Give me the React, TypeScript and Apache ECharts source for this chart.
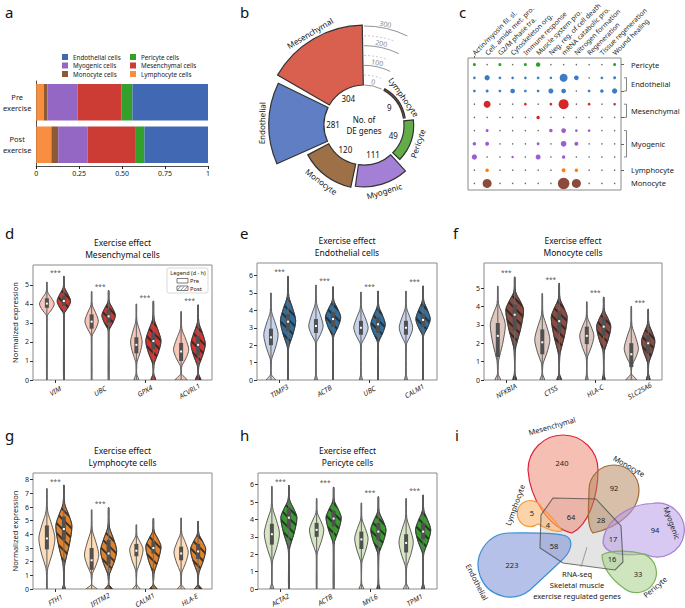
import React, { useEffect, useRef } from 'react';
import * as echarts from 'echarts';

const FONT = "'Noto Sans', sans-serif";

// ---------------- a: cell composition
const compositionGroups = ['Post\nexercise', 'Pre\nexercise'];
const compositionCells = ['Lymphocyte cells', 'Monocyte cells', 'Myogenic cells', 'Mesenchymal cells', 'Pericyte cells', 'Endothelial cells'];
const compositionColors = ['#f88e3f', '#8c5a34', '#9467c4', '#cd3b35', '#33a02c', '#4168b2'];
const fractionPre = [0.045, 0.02, 0.175, 0.255, 0.065, 0.44];
const fractionPost = [0.088, 0.04, 0.172, 0.28, 0.05, 0.37];
const fractionTicks = [0, 0.25, 0.5, 0.75, 1];

// ---------------- b: DE genes
const deCellTypes = ['Mesenchymal', 'Lymphocyte', 'Pericyte', 'Myogenic', 'Monocyte', 'Endothelial'];
const deGeneCounts = [304, 9, 49, 111, 120, 281];
const deColors = ['#d9604f', '#8a5634', '#62ad47', '#a47fd6', '#9e7048', '#5f7ec3'];
const deMajorTicks = [0, 100, 200, 300];
const deMinorTicks = [50, 150, 250];

// ---------------- c: GO dot plot
const goTerms = ['Actin/myosin fil. sl.', 'Cell. amide met. pro.', 'G2/M phase tra.', 'Cytoskeleton org.', 'Immune response', 'Muscle system pro.', 'Neg. reg. of cell death', 'mRNA catabolic pro.', 'Nitrogen formation', 'Regeneration', 'Tissue regeneration', 'Wound healing'];
const dotRowIds = ['Peri', 'Endo1', 'Endo2', 'Mes1', 'Mes2', 'Myo1', 'Myo2', 'Myo3', 'Lym', 'Mono'];
const dotRowColors = ['#2ca02c', '#3a7dc4', '#3a7dc4', '#d62728', '#d62728', '#9b5fd0', '#9b5fd0', '#9b5fd0', '#ff7f0e', '#8c4a3a'];
const dotSizes = [
  [3, 0, 3, 0, 3, 4.5, 0, 0, 0, 0, 0, 3],
  [2.7, 5.3, 2.7, 2.7, 2.7, 2.7, 2.5, 8, 4.7, 0, 2.7, 3],
  [2.7, 3, 2.7, 4.7, 2.7, 2.7, 5, 4.7, 0, 2.7, 3.5, 5.3],
  [0, 7, 0, 0, 2.7, 0, 2.7, 10, 0, 2.7, 0, 2.5],
  [0, 0, 0, 0, 0, 3.5, 0, 0, 0, 0, 0, 0],
  [0, 3, 0, 0, 0, 0, 3.5, 4.7, 2.7, 2.7, 0, 0],
  [3.5, 4, 0, 0, 0, 3, 0, 5.7, 4, 0, 0, 0],
  [5.3, 0, 0, 2.5, 0, 5, 0, 3.5, 0, 0, 0, 0],
  [0, 3.5, 0, 0, 0, 0, 0, 4, 3.5, 0, 0, 0],
  [0, 9, 0, 0, 0, 0, 0, 11.5, 9, 0, 0, 0],
];
const dotGroupLabels = ['Pericyte', 'Endothelial', 'Mesenchymal', 'Myogenic', 'Lymphocyte', 'Monocyte'];
const dotGroupRows = [[0, 0], [1, 2], [3, 4], [5, 7], [8, 8], [9, 9]];

// ---------------- d-h: violins  [max, peak, halfWidth, neck, baseLobe, q1, median, q3]
const genesD = ['VIM', 'UBC', 'GPX4', 'ACVRL1'];
const preD = [[5.15, 4.0, 0.165, 3.3, 0, 3.8, 4.02, 4.3], [4.65, 3.1, 0.15, 2.2, 0, 2.7, 3.07, 3.45], [4.0, 2.0, 0.13, 0.7, 0.05, 1.4, 1.85, 2.25], [3.6, 1.6, 0.17, 0.55, 0.13, 1.0, 1.5, 1.95]];
const postD = [[5.45, 4.15, 0.15, 3.4, 0, 3.9, 4.15, 4.45], [4.7, 3.4, 0.15, 2.5, 0, 3.0, 3.35, 3.7], [4.15, 2.05, 0.17, 0.6, 0.05, 1.6, 2.05, 2.5], [3.95, 1.9, 0.16, 0.5, 0.06, 1.3, 1.85, 2.3]];
const starsD = [5.67, 4.9, 4.33, 4.2];

const genesE = ['TIMP3', 'ACTB', 'UBC', 'CALM1'];
const preE = [[5.0, 2.6, 0.16, 0.9, 0.1, 2.0, 2.45, 2.95], [5.45, 3.1, 0.16, 2.0, 0.03, 2.7, 3.1, 3.5], [5.05, 3.0, 0.16, 1.9, 0.03, 2.6, 3.0, 3.4], [5.1, 3.0, 0.15, 1.9, 0.03, 2.6, 3.0, 3.4]];
const postE = [[5.95, 3.4, 0.17, 1.6, 0.02, 2.8, 3.35, 3.8], [5.35, 3.6, 0.17, 2.3, 0.02, 3.05, 3.5, 3.9], [5.1, 3.2, 0.16, 2.0, 0.02, 2.7, 3.2, 3.6], [5.4, 3.5, 0.16, 2.4, 0.02, 3.05, 3.45, 3.8]];
const starsE = [6.25, 5.7, 5.35, 5.67];

const genesF = ['NFKBIA', 'CTSS', 'HLA-C', 'SLC25A6'];
const preF = [[5.1, 3.0, 0.17, 0.6, 0.06, 1.25, 2.4, 3.1], [4.7, 2.2, 0.17, 0.6, 0.05, 1.4, 2.05, 2.75], [4.25, 2.4, 0.16, 1.0, 0.03, 1.95, 2.4, 2.9], [4.0, 1.7, 0.16, 0.6, 0.12, 0.7, 1.4, 2.0]];
const postF = [[5.6, 3.8, 0.2, 1.3, 0.04, 2.7, 3.55, 4.1], [5.25, 3.4, 0.18, 1.0, 0.05, 2.6, 3.2, 3.75], [4.5, 2.9, 0.16, 1.3, 0.03, 2.4, 2.9, 3.4], [3.85, 2.1, 0.15, 0.7, 0.04, 1.5, 2.0, 2.45]];
const starsF = [5.85, 5.45, 4.73, 4.24];

const genesG = ['FTH1', 'IFITM2', 'CALM1', 'HLA-E'];
const preG = [[7.35, 3.7, 0.18, 1.0, 0.02, 2.9, 3.7, 4.65], [5.8, 2.5, 0.16, 0.8, 0.12, 1.4, 2.1, 3.0], [4.7, 2.9, 0.15, 1.0, 0.08, 2.4, 2.8, 3.3], [5.2, 2.7, 0.16, 0.9, 0.08, 2.1, 2.6, 3.1]];
const postG = [[7.6, 4.6, 0.18, 1.2, 0.03, 3.6, 4.4, 5.3], [5.95, 2.8, 0.18, 0.7, 0.08, 1.8, 2.6, 3.6], [5.15, 3.1, 0.17, 0.8, 0.08, 2.6, 3.0, 3.5], [4.95, 2.9, 0.17, 0.8, 0.08, 2.2, 2.75, 3.3]];
const starsG = [7.9, 6.24, null, null];

const genesH = ['ACTA2', 'ACTB', 'MYL6', 'TPM1'];
const preH = [[5.9, 3.2, 0.17, 1.3, 0.04, 2.55, 3.15, 3.75], [5.2, 3.4, 0.16, 1.8, 0.02, 3.0, 3.4, 3.8], [4.95, 2.9, 0.15, 1.3, 0.05, 2.3, 2.85, 3.3], [5.2, 2.7, 0.16, 1.0, 0.06, 2.1, 2.65, 3.15]];
const postH = [[5.95, 4.1, 0.18, 2.0, 0.02, 3.5, 4.1, 4.6], [5.85, 4.1, 0.17, 2.4, 0.02, 3.6, 4.05, 4.5], [5.3, 3.4, 0.17, 1.8, 0.03, 2.8, 3.3, 3.8], [5.4, 3.4, 0.17, 1.8, 0.03, 2.85, 3.3, 3.8]];
const starsH = [6.2, 6.1, 5.56, 5.64];

const violinTitles = ['Mesenchymal cells', 'Endothelial cells', 'Monocyte cells', 'Lymphocyte cells', 'Pericyte cells'];
const violinPreColors = ['#f6c6b8', '#c8d3ea', '#dfc8c0', '#fddcb9', '#d6e5c3'];
const violinPostColors = ['#cf3632', '#2f6f9f', '#8c4b40', '#e1832c', '#3a9a31'];
const violinYTicks = [[0, 1, 2, 3, 4, 5], [0, 1, 2, 3, 4, 5, 6], [0, 1, 2, 3, 4, 5], [0, 1, 2, 3, 4, 5, 6, 7, 8], [0, 1, 2, 3, 4, 5, 6]];
const violinYMax = [6.05, 6.72, 6.36, 8.49, 6.67];

// ---------------- i: venn
const vennSets = ['Mesenchymal', 'Monocyte', 'Myogenic', 'Pericyte', 'Endothelial', 'Lymphocyte'];
const vennCounts = [240, 92, 94, 33, 223, 5, 4, 64, 28, 17, 16, 58];

// ---------------- layout
const violinGrids = [
  { left: 33, top: 265, width: 179, height: 115 },
  { left: 257, top: 263, width: 180, height: 117 },
  { left: 484, top: 263, width: 178, height: 117 },
  { left: 33, top: 473, width: 179, height: 116 },
  { left: 258, top: 473, width: 179, height: 116 },
];
const C_LEFT = 468, C_TOP = 58, C_W = 153, C_H = 132;

const petalPaths: Record<string, string> = {
  vennMes: 'M 572 533 C 550 528 530 500 528 470 A 35 35 0 0 1 598 470 C 598 498 588 525 572 533 Z',
  vennMono: 'M 593 533 C 586 526 589 505 589 490 A 25 25 0 0 1 639 490 C 639 510 620 527 593 533 Z',
  vennMyo: 'M 603 543 C 604 520 630 504 652 503.5 A 27 27 0 1 1 645 554 C 625 556 606 555 603 543 Z',
  vennPeri: 'M 602 555 C 610 550 630 550 645 554.6 A 20 20 0 1 1 623 587.5 C 612 580 602 567 602 555 Z',
  vennEndo: 'M 566 536 C 574 540 572 552 560 562 L 530 590 A 32 32 0 1 1 508 533 C 530 533 555 532 566 536 Z',
  vennLym: 'M 562 531 C 555 533 545 528 538 524 A 13 13 0 1 1 542 508 C 550 515 558 524 562 531 Z',
};
const petalKeys = ['vennMes', 'vennMono', 'vennMyo', 'vennPeri', 'vennEndo', 'vennLym'];
const petalFill = ['rgba(238,150,128,0.6)', 'rgba(176,128,86,0.5)', 'rgba(184,156,232,0.55)', 'rgba(165,207,135,0.55)', 'rgba(122,142,216,0.55)', 'rgba(252,184,112,0.6)'];
const petalStroke = ['#e0243e', '#a06b3a', '#a77fd0', '#78b45a', '#3b8fd3', '#f39a3c'];
const vennLabelLayout = [[552, 426, 16], [629, 466, -30], [672, 523, -70], [655, 587, 40], [477, 582, -63], [515, 505, 70]];
const vennCountLayout = [[562, 463], [614, 488], [655, 530], [638, 574], [512, 565], [532, 513], [548, 525], [571, 517], [601, 520], [613, 539], [612, 559], [554, 546]];

let shapesRegistered = false;
function registerShapes() {
  if (shapesRegistered) return;
  shapesRegistered = true;
  Object.keys(petalPaths).forEach((k) => {
    echarts.graphic.registerShape(k, echarts.graphic.extendPath(petalPaths[k], {}) as any);
  });
}

function slotAngles(k: number): [number, number] {
  if (k === 0) return [150, 91];
  const s = 60 - (k - 1) * 54;
  return [s, s - 50];
}

const HATCH = {
  symbol: 'rect',
  symbolSize: 1,
  color: 'rgba(35,35,35,0.85)',
  dashArrayX: [1, 0],
  dashArrayY: [1.3, 4.6],
  rotation: Math.PI / 4,
};

function bbox(pts: number[][]) {
  let x0 = Infinity, y0 = Infinity, x1 = -Infinity, y1 = -Infinity;
  pts.forEach(([x, y]) => { x0 = Math.min(x0, x); y0 = Math.min(y0, y); x1 = Math.max(x1, x); y1 = Math.max(y1, y); });
  return [[x0, y0], [x1, y1]];
}

function makeViolin(gi: number, rows: number[][], color: string, side: number, hatched: boolean) {
  return {
    type: 'custom',
    xAxisIndex: gi,
    yAxisIndex: gi,
    clip: true,
    silent: true,
    data: rows.map((r, i) => [i, ...r]),
    renderItem: (params: any, api: any) => {
      const i = api.value(0);
      const mx = api.value(1), pk = api.value(2), hw = api.value(3), nk = api.value(4), base = api.value(5);
      const q1 = api.value(6), md = api.value(7), q3 = api.value(8);
      const c0 = api.coord([i, 0]);
      const band = api.size([1, 0])[0];
      const cx = c0[0] + side * 0.19 * band;
      const Y = (v: number) => api.coord([i, v])[1];
      const prof: number[][] = [
        [mx, 0.006], [pk + (mx - pk) * 0.55, hw * 0.1], [pk + (mx - pk) * 0.28, hw * 0.6], [pk, hw],
        [pk - (pk - nk) * 0.45, hw * 0.62], [pk - (pk - nk) * 0.8, hw * 0.12], [nk, 0.008],
      ];
      if (base > 0.025) prof.push([0.32, 0.008], [0, base]);
      else prof.push([0, 0.008]);
      const right = prof.map(([v, w]) => [cx + w * band, Y(v)]);
      const left = prof.slice().reverse().map(([v, w]) => [cx - w * band, Y(v)]);
      const pts = right.concat(left);
      const style: any = { fill: color, stroke: '#383838', lineWidth: 0.8 };
      if (hatched) style.decal = HATCH;
      return {
        type: 'group',
        children: [
          { type: 'polygon', shape: { points: pts, smooth: 0.3, smoothConstraint: bbox(pts) }, style },
          { type: 'line', shape: { x1: cx, y1: Y(0), x2: cx, y2: Y(mx) }, style: { stroke: '#6a6a6a', lineWidth: 1.1 } },
          { type: 'rect', shape: { x: cx - 2, y: Y(q3), width: 4, height: Y(q1) - Y(q3) }, style: { fill: '#505050' } },
          { type: 'rect', shape: { x: cx - 1, y: Y(md) - 1, width: 2, height: 2 }, style: { fill: '#ffffff' } },
        ],
      };
    },
  };
}

function buildOption() {
  const grids: any[] = [];
  const xAxes: any[] = [];
  const yAxes: any[] = [];
  const series: any[] = [];
  const graphic: any[] = [];

  // ---- a
  grids.push({ left: 33, top: 81, width: 175, height: 85 });
  xAxes.push({
    type: 'value', gridIndex: 0, min: 0, max: 1, interval: 0.25,
    axisLine: { show: true, lineStyle: { color: '#222', width: 0.8 } },
    axisTick: { show: true, length: 3, lineStyle: { color: '#222' } },
    splitLine: { show: false },
    axisLabel: { fontSize: 7, color: '#222', margin: 4, formatter: (v: number) => (fractionTicks.indexOf(v) >= 0 ? (v === 0 ? '0' : v === 1 ? '1' : v.toFixed(2)) : '') },
  });
  yAxes.push({
    type: 'category', gridIndex: 0, data: compositionGroups,
    axisLine: { show: true, lineStyle: { color: '#222', width: 0.8 } },
    axisTick: { show: false },
    axisLabel: { fontSize: 7.5, color: '#222', lineHeight: 11, margin: 19, align: 'center' },
  });
  compositionCells.forEach((name, k) => {
    series.push({
      type: 'bar', name, stack: 'comp', xAxisIndex: 0, yAxisIndex: 0,
      data: [fractionPost[k], fractionPre[k]], barCategoryGap: '14%',
      itemStyle: { color: compositionColors[k] }, silent: true,
    });
  });

  // ---- c
  grids.push({ left: C_LEFT, top: C_TOP, width: C_W, height: C_H, show: true, borderColor: '#8a8a8a', borderWidth: 1 });
  xAxes.push({
    type: 'category', gridIndex: 1, position: 'top', data: goTerms,
    axisLine: { show: false }, axisTick: { show: true, length: 2, alignWithLabel: true, lineStyle: { color: '#666' } },
    axisLabel: { show: false },
  });
  yAxes.push({
    type: 'category', gridIndex: 1, position: 'right', inverse: true, data: dotRowIds,
    axisLine: { show: false }, axisTick: { show: true, length: 3, alignWithLabel: true, lineStyle: { color: '#666' } },
    axisLabel: { show: false },
  });
  const dotData: any[] = [];
  dotSizes.forEach((row, r) => row.forEach((s, c) => dotData.push([c, r, s])));
  series.push({
    type: 'scatter', xAxisIndex: 1, yAxisIndex: 1, silent: true, data: dotData,
    symbolSize: (d: number[]) => (d[2] > 0 ? d[2] : 1.5),
    itemStyle: { opacity: 1, color: (p: any) => (p.data[2] > 0 ? dotRowColors[p.data[1]] : '#6a6a6a') },
  });
  const colW = C_W / goTerms.length;
  goTerms.forEach((t, i) => {
    graphic.push({ type: 'text', x: C_LEFT + (i + 0.5) * colW - 1, y: C_TOP - 4, rotation: Math.PI / 4, style: { text: t, fontSize: 6.8, fontFamily: FONT, fill: '#222', align: 'left', verticalAlign: 'middle' } });
  });

  // ---- d-h violins
  const vGenes = [genesD, genesE, genesF, genesG, genesH];
  const vPre = [preD, preE, preF, preG, preH];
  const vPost = [postD, postE, postF, postG, postH];
  const vStars: any[] = [starsD, starsE, starsF, starsG, starsH];
  violinGrids.forEach((g, p) => {
    const gi = p + 2;
    grids.push({ ...g, show: true, borderColor: '#8a8a8a', borderWidth: 1 });
    xAxes.push({
      type: 'category', gridIndex: gi, data: vGenes[p],
      axisLine: { show: false },
      axisTick: { show: true, alignWithLabel: true, length: 3, lineStyle: { color: '#333' } },
      axisLabel: { show: false },
    });
    yAxes.push({
      type: 'value', gridIndex: gi, min: 0, max: violinYMax[p],
      name: p === 0 || p === 3 ? 'Normalized expression' : '',
      nameLocation: 'middle', nameGap: 14, nameRotate: 90,
      nameTextStyle: { fontSize: 7.5, color: '#222' },
      axisLine: { show: false }, splitLine: { show: false },
      axisTick: { show: true, length: 3, lineStyle: { color: '#333' }, customValues: violinYTicks[p] },
      axisLabel: { fontSize: 7, color: '#222', margin: 4, customValues: violinYTicks[p] },
    });
    series.push(makeViolin(gi, vPre[p], violinPreColors[p], -1, false));
    series.push(makeViolin(gi, vPost[p], violinPostColors[p], 1, true));
    series.push({
      type: 'scatter', xAxisIndex: gi, yAxisIndex: gi, silent: true,
      data: vStars[p].map((s: any, i: number) => [i, s]).filter((d: any) => d[1] != null),
      symbolSize: 1, itemStyle: { color: 'rgba(0,0,0,0)' },
      label: { show: true, formatter: '***', position: 'inside', fontSize: 6.5, color: '#222' },
    });
    const cxT = g.left + g.width / 2;
    graphic.push({ type: 'text', x: cxT, y: g.top - 23, style: { text: 'Exercise effect', fontSize: 8.5, fontFamily: FONT, fill: '#111', align: 'center', verticalAlign: 'middle' } });
    graphic.push({ type: 'text', x: cxT, y: g.top - 11, style: { text: violinTitles[p], fontSize: 8.5, fontFamily: FONT, fill: '#111', align: 'center', verticalAlign: 'middle' } });
    const bw = g.width / vGenes[p].length;
    vGenes[p].forEach((gene, i) => {
      graphic.push({ type: 'text', x: g.left + (i + 0.5) * bw, y: g.top + g.height + 11, rotation: Math.PI / 6, style: { text: gene, fontSize: 7, fontStyle: 'italic', fontFamily: FONT, fill: '#222', align: 'center', verticalAlign: 'middle' } });
    });
  });

  // ---- b polar
  series.push({
    type: 'custom', coordinateSystem: 'polar', polarIndex: 0, silent: true,
    data: deGeneCounts.map((v) => [v, 0]),
    renderItem: (params: any, api: any) => {
      const k = params.dataIndex;
      const cs = params.coordSys;
      const R = (v: number) => { const pt = api.coord([v, 90]); return Math.hypot(pt[0] - cs.cx, pt[1] - cs.cy); };
      const v = api.value(0);
      const [a1, a2] = slotAngles(k);
      const r0 = R(0), r1 = R(v);
      let mid = (a1 + a2) / 2;
      if (mid <= -180) mid += 360;
      const top = mid > 0;
      const rot = top ? mid - 90 : mid + 90;
      const lr = r1 + 7;
      const mr = mid * Math.PI / 180;
      const vr = 31;
      return {
        type: 'group',
        children: [
          { type: 'sector', shape: { cx: cs.cx, cy: cs.cy, r0, r: r1, startAngle: -a1 * Math.PI / 180, endAngle: -a2 * Math.PI / 180, clockwise: true }, style: { fill: deColors[k], stroke: '#333', lineWidth: 1.2 } },
          { type: 'text', x: cs.cx + lr * Math.cos(mr), y: cs.cy - lr * Math.sin(mr), rotation: rot * Math.PI / 180, style: { text: deCellTypes[k], fontSize: 8, fontFamily: FONT, fill: '#111', align: 'center', verticalAlign: 'middle' } },
          { type: 'text', x: cs.cx + vr * Math.cos(mr), y: cs.cy - vr * Math.sin(mr), style: { text: String(deGeneCounts[k]), fontSize: 8, fontFamily: FONT, fill: '#111', align: 'center', verticalAlign: 'middle' } },
        ],
      };
    },
  });
  const tickSeries = (ticks: number[], dashed: boolean) => ({
    type: 'custom', coordinateSystem: 'polar', polarIndex: 0, silent: true,
    data: ticks.map((t) => [t, 0]),
    renderItem: (params: any, api: any) => {
      const cs = params.coordSys;
      const t = api.value(0);
      const pt = api.coord([t, 90]);
      const r = Math.hypot(pt[0] - cs.cx, pt[1] - cs.cy);
      const arcStyle: any = { stroke: dashed ? '#bbb' : '#777', lineWidth: 0.8, fill: null };
      if (dashed) arcStyle.lineDash = [2, 2];
      const children: any[] = [
        { type: 'arc', shape: { cx: cs.cx, cy: cs.cy, r, startAngle: -Math.PI / 2, endAngle: -(dashed ? 70 : 64) * Math.PI / 180, clockwise: true }, style: arcStyle },
      ];
      if (!dashed) {
        const a = 78 * Math.PI / 180;
        children.push({ type: 'text', x: cs.cx + (r + 4) * Math.cos(a), y: cs.cy - (r + 4) * Math.sin(a), rotation: -12 * Math.PI / 180, style: { text: String(t), fontSize: 7, fontFamily: FONT, fill: '#888', align: 'center', verticalAlign: 'middle' } });
      }
      return { type: 'group', children };
    },
  });
  series.push(tickSeries(deMajorTicks, false));
  series.push(tickSeries(deMinorTicks, true));
  graphic.push({ type: 'text', x: 364, y: 125, style: { text: 'No. of\nDE genes', fontSize: 8, lineHeight: 11, fontFamily: FONT, fill: '#111', align: 'center', verticalAlign: 'middle' } });

  // ---- c row labels / brackets
  const rowH = C_H / dotRowIds.length;
  const CR = C_LEFT + C_W;
  dotGroupRows.forEach(([r1, r2], g) => {
    const y1 = C_TOP + (r1 + 0.5) * rowH;
    const y2 = C_TOP + (r2 + 0.5) * rowH;
    if (r2 > r1) {
      graphic.push({ type: 'polyline', shape: { points: [[CR + 3, y1], [CR + 5.5, y1], [CR + 5.5, y2], [CR + 3, y2]] }, style: { stroke: '#666', lineWidth: 0.8, fill: null } });
    }
    graphic.push({ type: 'text', x: CR + 10, y: (y1 + y2) / 2, style: { text: dotGroupLabels[g], fontSize: 7.5, fontFamily: FONT, fill: '#222', align: 'left', verticalAlign: 'middle' } });
  });

  // ---- d legend box
  graphic.push({ type: 'rect', shape: { x: 167, y: 268, width: 41, height: 25, r: 2 }, style: { fill: '#fff', stroke: '#cfcfcf', lineWidth: 0.8 } });
  graphic.push({ type: 'text', x: 188, y: 272.5, style: { text: 'Legend (d - h)', fontSize: 5.5, fontFamily: FONT, fill: '#222', align: 'center', verticalAlign: 'middle' } });
  graphic.push({ type: 'rect', shape: { x: 177, y: 278.5, width: 11, height: 4.5 }, style: { fill: '#fff', stroke: '#444', lineWidth: 0.7 } });
  graphic.push({ type: 'text', x: 190, y: 281, style: { text: 'Pre', fontSize: 5.8, fontFamily: FONT, fill: '#222', align: 'left', verticalAlign: 'middle' } });
  graphic.push({ type: 'rect', shape: { x: 177, y: 286, width: 11, height: 4.5 }, style: { fill: '#fff', stroke: '#444', lineWidth: 0.7 } });
  [179, 182.5, 186].forEach((x0) => graphic.push({ type: 'line', shape: { x1: x0 - 1.5, y1: 290, x2: x0 + 1.5, y2: 286.5 }, style: { stroke: '#444', lineWidth: 0.6 } }));
  graphic.push({ type: 'text', x: 190, y: 288.5, style: { text: 'Post', fontSize: 5.8, fontFamily: FONT, fill: '#222', align: 'left', verticalAlign: 'middle' } });

  // ---- i venn
  const hexPts = [[553, 498], [596, 499], [621, 526], [623, 562], [615, 570], [563, 563], [540, 548], [541, 515]];
  graphic.push({ type: 'polygon', shape: { points: hexPts }, style: { fill: '#e4e4e4' } });
  petalKeys.forEach((k, i) => {
    graphic.push({ type: k, x: 0, y: 0, style: { fill: petalFill[i], stroke: petalStroke[i], lineWidth: 1.2 } });
  });
  graphic.push({ type: 'polygon', shape: { points: hexPts }, style: { fill: 'none', stroke: 'rgba(70,70,70,0.75)', lineWidth: 1.1 } });
  vennSets.forEach((name, i) => {
    const [x, y, r] = vennLabelLayout[i];
    graphic.push({ type: 'text', x, y, rotation: r * Math.PI / 180, style: { text: name, fontSize: 7.5, fontFamily: FONT, fill: '#222', align: 'center', verticalAlign: 'middle' } });
  });
  vennCounts.forEach((n, i) => {
    const [x, y] = vennCountLayout[i];
    graphic.push({ type: 'text', x, y, style: { text: String(n), fontSize: 7.5, fontFamily: FONT, fill: '#222', align: 'center', verticalAlign: 'middle' } });
  });
  graphic.push({ type: 'line', shape: { x1: 581, y1: 567, x2: 587, y2: 547 }, style: { stroke: '#888', lineWidth: 0.8 } });
  graphic.push({ type: 'text', x: 577, y: 585, style: { text: 'RNA-seq\nSkeletal muscle\nexercise regulated genes', fontSize: 7.5, lineHeight: 11, fontFamily: FONT, fill: '#222', align: 'center', verticalAlign: 'middle' } });

  // ---- panel letters
  const letters: [string, number, number][] = [['a', 5, 12], ['b', 240, 12], ['c', 459, 12], ['d', 5, 233], ['e', 240, 233], ['f', 453, 233], ['g', 5, 435], ['h', 240, 435], ['i', 455, 435]];
  letters.forEach(([t, x, y]) => graphic.push({ type: 'text', x, y, style: { text: t, fontSize: 15, fontFamily: FONT, fill: '#111', align: 'left', verticalAlign: 'middle' } }));

  return {
    animation: false,
    backgroundColor: '#fff',
    textStyle: { fontFamily: FONT },
    legend: [
      { data: ['Endothelial cells', 'Myogenic cells', 'Monocyte cells'], orient: 'vertical', left: 57, top: 48, itemWidth: 6, itemHeight: 6, itemGap: 0.5, icon: 'rect', selectedMode: false, textStyle: { fontSize: 6.3, color: '#222', lineHeight: 8 } },
      { data: ['Pericyte cells', 'Mesenchymal cells', 'Lymphocyte cells'], orient: 'vertical', left: 125, top: 48, itemWidth: 6, itemHeight: 6, itemGap: 0.5, icon: 'rect', selectedMode: false, textStyle: { fontSize: 6.3, color: '#222', lineHeight: 8 } },
    ],
    grid: grids,
    xAxis: xAxes,
    yAxis: yAxes,
    polar: [{ center: [364, 125], radius: [40, 103] }],
    radiusAxis: [{ polarIndex: 0, type: 'value', min: 0, max: 320, show: false }],
    angleAxis: [{ polarIndex: 0, type: 'value', min: 0, max: 360, startAngle: 0, clockwise: false, show: false }],
    series,
    graphic,
  };
}

export default function App() {
  const ref = useRef<HTMLDivElement>(null);
  useEffect(() => {
    if (!ref.current) return;
    registerShapes();
    const chart = echarts.init(ref.current, undefined, { renderer: 'svg' });
    chart.setOption(buildOption() as any);
    return () => chart.dispose();
  }, []);
  return (
    <div style={{ position: 'absolute', left: 0, top: 0, width: 685, height: 608, background: '#fff' }}>
      <div ref={ref} style={{ width: 685, height: 608 }} />
    </div>
  );
}
